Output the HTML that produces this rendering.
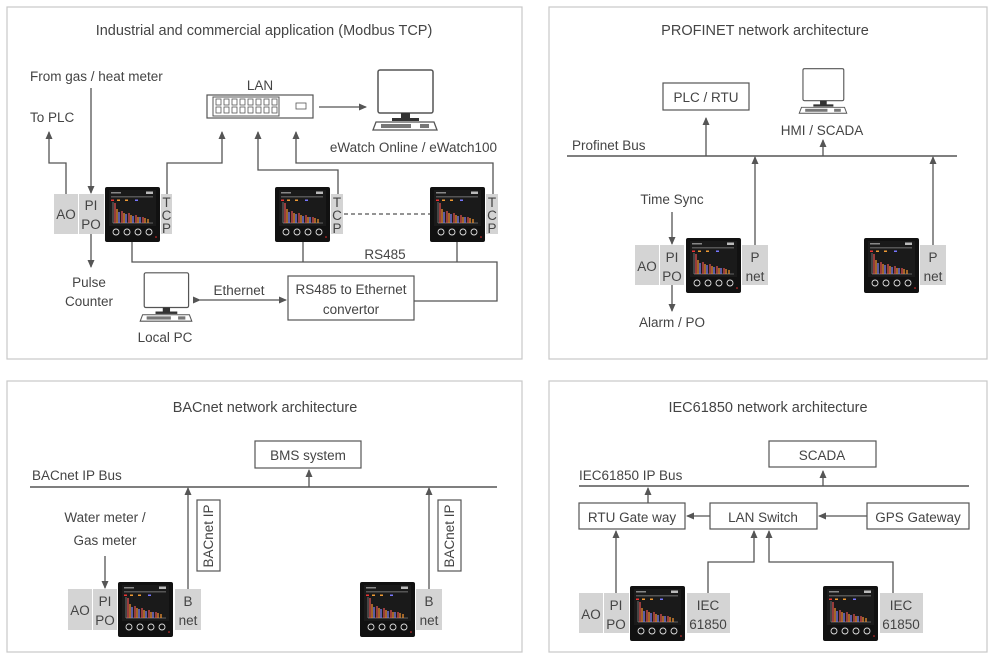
<!DOCTYPE html>
<html><head><meta charset="utf-8"><style>
html,body{margin:0;padding:0;background:#fff;}
svg{display:block;font-family:"Liberation Sans","DejaVu Sans",sans-serif;}
text{fill:#444;font-size:13.5px;}
.t{font-size:14.5px;}
.ln{stroke:#555;stroke-width:1.3;fill:none;}
.bx{fill:#fff;stroke:#555;stroke-width:1.2;}
.g{fill:#d4d4d4;}
.tc{font-size:13.5px;}
</style></head><body>
<svg width="993" height="659" viewBox="0 0 993 659" xmlns="http://www.w3.org/2000/svg">
<defs>
<marker id="a" markerWidth="8" markerHeight="8" refX="7" refY="4" orient="auto" markerUnits="userSpaceOnUse">
<path d="M0,0.5 L8,4 L0,7.5 Z" fill="#555"/></marker>
<symbol id="m" viewBox="0 0 55 55">
<rect x="0" y="0" width="55" height="55" rx="2" fill="#111"/>
<rect x="4" y="3" width="47" height="36" fill="#1a1a1a"/>
<rect x="6" y="5" width="10" height="1.5" fill="#888"/>
<rect x="41" y="4.5" width="7" height="2.5" fill="#bbb"/>
<rect x="6" y="9" width="42" height="1.5" fill="#555"/>
<rect x="6" y="12.5" width="3" height="1.5" fill="#e33"/>
<rect x="12" y="12.5" width="3" height="1.5" fill="#e93"/>
<rect x="20" y="12.5" width="3" height="1.5" fill="#e93"/>
<rect x="30" y="12.5" width="3" height="1.5" fill="#77f"/>
<line x1="8" y1="15" x2="8" y2="36" stroke="#aaa" stroke-width="0.6"/>
<line x1="8" y1="36" x2="48" y2="36" stroke="#aaa" stroke-width="0.6"/>
<g stroke-width="1.2">
<line x1="10" y1="36" x2="10" y2="16" stroke="#e55"/>
<line x1="12" y1="36" x2="12" y2="22" stroke="#f93"/>
<line x1="14" y1="36" x2="14" y2="25" stroke="#88f"/>
<line x1="17" y1="36" x2="17" y2="24" stroke="#e55"/>
<line x1="19" y1="36" x2="19" y2="26" stroke="#f93"/>
<line x1="21" y1="36" x2="21" y2="27" stroke="#88f"/>
<line x1="24" y1="36" x2="24" y2="26" stroke="#e55"/>
<line x1="26" y1="36" x2="26" y2="28" stroke="#f93"/>
<line x1="28" y1="36" x2="28" y2="29" stroke="#88f"/>
<line x1="31" y1="36" x2="31" y2="28" stroke="#e55"/>
<line x1="33" y1="36" x2="33" y2="30" stroke="#f93"/>
<line x1="35" y1="36" x2="35" y2="30" stroke="#88f"/>
<line x1="38" y1="36" x2="38" y2="30" stroke="#e55"/>
<line x1="40" y1="36" x2="40" y2="31" stroke="#f93"/>
<line x1="43" y1="36" x2="43" y2="32" stroke="#f93"/>
</g>
<g fill="none" stroke="#ddd" stroke-width="0.9">
<circle cx="11" cy="45" r="3"/><circle cx="22" cy="45" r="3"/><circle cx="33" cy="45" r="3"/><circle cx="44" cy="45" r="3"/>
</g>
<circle cx="51" cy="50" r="0.8" fill="#e33"/>
</symbol>
<symbol id="pc" viewBox="0 0 66 62">
<rect x="6" y="1" width="55" height="43" rx="2" fill="#fff" stroke="#555" stroke-width="1.5"/>
<rect x="29" y="44" width="9" height="7" fill="#333"/>
<rect x="20" y="49" width="27" height="3" fill="#333"/>
<path d="M4,53 L62,53 L65,61 L1,61 Z" fill="#fff" stroke="#555" stroke-width="1.3"/>
<rect x="9" y="55" width="30" height="4" fill="#777"/>
<rect x="48" y="55" width="9" height="4" fill="#777"/>
</symbol>
</defs>

<g fill="none" stroke="#c8c8c8" stroke-width="1.2">
<rect x="7" y="7" width="515" height="352"/>
<rect x="549" y="7" width="438" height="352"/>
<rect x="7" y="381" width="515" height="271"/>
<rect x="549" y="381" width="438" height="271"/>
</g>

<!-- PANEL 1 -->
<text class="t" x="264" y="35" text-anchor="middle">Industrial and commercial application (Modbus TCP)</text>
<text x="30" y="81">From gas / heat meter</text>
<text x="30" y="122">To PLC</text>
<text x="260" y="90" text-anchor="middle">LAN</text>
<rect x="207" y="95" width="106" height="23" fill="#fff" stroke="#555" stroke-width="1.2"/>
<rect x="213" y="97" width="66" height="19" fill="#fff" stroke="#555" stroke-width="1"/>
<g fill="none" stroke="#555" stroke-width="0.8">
<rect x="216" y="99" width="5" height="6"/><rect x="224" y="99" width="5" height="6"/><rect x="232" y="99" width="5" height="6"/><rect x="240" y="99" width="5" height="6"/><rect x="248" y="99" width="5" height="6"/><rect x="256" y="99" width="5" height="6"/><rect x="264" y="99" width="5" height="6"/><rect x="272" y="99" width="5" height="6"/>
<rect x="216" y="107" width="5" height="6"/><rect x="224" y="107" width="5" height="6"/><rect x="232" y="107" width="5" height="6"/><rect x="240" y="107" width="5" height="6"/><rect x="248" y="107" width="5" height="6"/><rect x="256" y="107" width="5" height="6"/><rect x="264" y="107" width="5" height="6"/><rect x="272" y="107" width="5" height="6"/>
<rect x="296" y="103" width="10" height="6"/>
</g>
<line class="ln" x1="319" y1="107" x2="366" y2="107" marker-end="url(#a)"/>
<use href="#pc" x="372" y="69" width="66" height="62"/>
<text x="497" y="152" text-anchor="end">eWatch Online / eWatch100</text>

<rect class="g" x="54" y="194" width="24" height="40"/>
<rect class="g" x="79" y="194" width="25" height="40"/>
<text x="66" y="219" text-anchor="middle">AO</text>
<text x="91" y="210" text-anchor="middle">PI</text>
<text x="91" y="229" text-anchor="middle">PO</text>
<use href="#m" x="105" y="187" width="55" height="55"/>
<rect class="g" x="161" y="194" width="11" height="40"/>
<text class="tc" x="166.5" y="207" text-anchor="middle">T</text>
<text class="tc" x="166.5" y="220" text-anchor="middle">C</text>
<text class="tc" x="166.5" y="233" text-anchor="middle">P</text>
<use href="#m" x="275" y="187" width="55" height="55"/>
<rect class="g" x="331" y="194" width="12" height="40"/>
<text class="tc" x="337" y="207" text-anchor="middle">T</text>
<text class="tc" x="337" y="220" text-anchor="middle">C</text>
<text class="tc" x="337" y="233" text-anchor="middle">P</text>
<use href="#m" x="430" y="187" width="55" height="55"/>
<rect class="g" x="486" y="194" width="12" height="40"/>
<text class="tc" x="492" y="207" text-anchor="middle">T</text>
<text class="tc" x="492" y="220" text-anchor="middle">C</text>
<text class="tc" x="492" y="233" text-anchor="middle">P</text>
<line x1="344" y1="214" x2="430" y2="214" stroke="#555" stroke-width="1.2" stroke-dasharray="4,3"/>

<polyline class="ln" points="66,194 66,163 49,163 49,132" marker-end="url(#a)"/>
<line class="ln" x1="91" y1="88" x2="91" y2="193" marker-end="url(#a)"/>
<line class="ln" x1="91" y1="234" x2="91" y2="267" marker-end="url(#a)"/>
<text x="89" y="287" text-anchor="middle">Pulse</text>
<text x="89" y="306" text-anchor="middle">Counter</text>
<polyline class="ln" points="167,194 167,163 222,163 222,132" marker-end="url(#a)"/>
<polyline class="ln" points="338,194 338,170 258,170 258,132" marker-end="url(#a)"/>
<polyline class="ln" points="493,194 493,163 296,163 296,132" marker-end="url(#a)"/>
<polyline class="ln" points="132,242 132,262 497,262 497,301 414,301"/>
<line class="ln" x1="303" y1="242" x2="303" y2="262"/>
<line class="ln" x1="457" y1="242" x2="457" y2="262"/>
<text x="385" y="259" text-anchor="middle" font-size="12.5">RS485</text>
<rect class="bx" x="288" y="276" width="126" height="44"/>
<text x="351" y="294" text-anchor="middle" font-size="12.5">RS485 to Ethernet</text>
<text x="351" y="314" text-anchor="middle" font-size="12.5">convertor</text>
<line class="ln" x1="200" y1="300" x2="286" y2="300" marker-end="url(#a)" marker-start="url(#a)"/>
<text x="239" y="295" text-anchor="middle" font-size="12.5">Ethernet</text>
<use href="#pc" x="139" y="272" width="54" height="50"/>
<text x="165" y="342" text-anchor="middle">Local PC</text>

<!-- PANEL 2 -->
<text class="t" x="765" y="35" text-anchor="middle">PROFINET network architecture</text>
<rect class="bx" x="663" y="83" width="86" height="27"/>
<text x="706" y="102" text-anchor="middle">PLC / RTU</text>
<use href="#pc" x="797" y="68" width="52" height="46"/>
<text x="822" y="135" text-anchor="middle">HMI / SCADA</text>
<text x="572" y="150">Profinet Bus</text>
<line x1="567" y1="156" x2="957" y2="156" stroke="#555" stroke-width="1.5"/>
<line class="ln" x1="706" y1="156" x2="706" y2="118" marker-end="url(#a)"/>
<line class="ln" x1="823" y1="156" x2="823" y2="140" marker-end="url(#a)"/>
<text x="672" y="204" text-anchor="middle">Time Sync</text>
<line class="ln" x1="672" y1="212" x2="672" y2="244" marker-end="url(#a)"/>
<rect class="g" x="635" y="245" width="24" height="40"/>
<rect class="g" x="660" y="245" width="24" height="40"/>
<text x="647" y="271" text-anchor="middle">AO</text>
<text x="672" y="262" text-anchor="middle">PI</text>
<text x="672" y="281" text-anchor="middle">PO</text>
<use href="#m" x="686" y="238" width="55" height="55"/>
<rect class="g" x="742" y="245" width="26" height="40"/>
<text x="755" y="262" text-anchor="middle">P</text>
<text x="755" y="281" text-anchor="middle">net</text>
<line class="ln" x1="672" y1="285" x2="672" y2="311" marker-end="url(#a)"/>
<text x="672" y="327" text-anchor="middle">Alarm / PO</text>
<line class="ln" x1="755" y1="245" x2="755" y2="157" marker-end="url(#a)"/>
<use href="#m" x="864" y="238" width="55" height="55"/>
<rect class="g" x="920" y="245" width="26" height="40"/>
<text x="933" y="262" text-anchor="middle">P</text>
<text x="933" y="281" text-anchor="middle">net</text>
<line class="ln" x1="933" y1="245" x2="933" y2="157" marker-end="url(#a)"/>

<!-- PANEL 3 -->
<text class="t" x="265" y="412" text-anchor="middle">BACnet network architecture</text>
<rect class="bx" x="255" y="441" width="106" height="27"/>
<text x="308" y="460" text-anchor="middle">BMS system</text>
<text x="32" y="480">BACnet IP Bus</text>
<line x1="30" y1="487" x2="497" y2="487" stroke="#555" stroke-width="1.5"/>
<line class="ln" x1="309" y1="487" x2="309" y2="470" marker-end="url(#a)"/>
<text x="105" y="522" text-anchor="middle">Water meter /</text>
<text x="105" y="545" text-anchor="middle">Gas meter</text>
<line class="ln" x1="105" y1="556" x2="105" y2="588" marker-end="url(#a)"/>
<rect class="g" x="68" y="589" width="24" height="41"/>
<rect class="g" x="93" y="589" width="24" height="41"/>
<text x="80" y="615" text-anchor="middle">AO</text>
<text x="105" y="606" text-anchor="middle">PI</text>
<text x="105" y="625" text-anchor="middle">PO</text>
<use href="#m" x="118" y="582" width="55" height="55"/>
<rect class="g" x="175" y="589" width="26" height="41"/>
<text x="188" y="606" text-anchor="middle">B</text>
<text x="188" y="625" text-anchor="middle">net</text>
<line class="ln" x1="188" y1="589" x2="188" y2="488" marker-end="url(#a)"/>
<rect class="bx" x="197" y="500" width="23" height="71"/>
<text transform="translate(213,536) rotate(-90)" text-anchor="middle">BACnet IP</text>
<use href="#m" x="360" y="582" width="55" height="55"/>
<rect class="g" x="416" y="589" width="26" height="41"/>
<text x="429" y="606" text-anchor="middle">B</text>
<text x="429" y="625" text-anchor="middle">net</text>
<line class="ln" x1="429" y1="589" x2="429" y2="488" marker-end="url(#a)"/>
<rect class="bx" x="438" y="500" width="23" height="71"/>
<text transform="translate(454,536) rotate(-90)" text-anchor="middle">BACnet IP</text>

<!-- PANEL 4 -->
<text class="t" x="768" y="412" text-anchor="middle">IEC61850 network architecture</text>
<rect class="bx" x="769" y="441" width="107" height="26"/>
<text x="822" y="460" text-anchor="middle">SCADA</text>
<text x="579" y="480">IEC61850 IP Bus</text>
<line x1="579" y1="486" x2="969" y2="486" stroke="#555" stroke-width="1.5"/>
<line class="ln" x1="823" y1="486" x2="823" y2="471" marker-end="url(#a)"/>
<line class="ln" x1="648" y1="503" x2="648" y2="488" marker-end="url(#a)"/>
<rect class="bx" x="579" y="503" width="106" height="26"/>
<text x="632" y="522" text-anchor="middle">RTU Gate way</text>
<rect class="bx" x="710" y="503" width="107" height="26"/>
<text x="763" y="522" text-anchor="middle">LAN Switch</text>
<rect class="bx" x="867" y="503" width="102" height="26"/>
<text x="918" y="522" text-anchor="middle">GPS Gateway</text>
<line class="ln" x1="710" y1="516" x2="687" y2="516" marker-end="url(#a)"/>
<line class="ln" x1="867" y1="516" x2="819" y2="516" marker-end="url(#a)"/>
<rect class="g" x="579" y="593" width="24" height="40"/>
<rect class="g" x="604" y="593" width="25" height="40"/>
<text x="591" y="619" text-anchor="middle">AO</text>
<text x="616" y="610" text-anchor="middle">PI</text>
<text x="616" y="629" text-anchor="middle">PO</text>
<use href="#m" x="630" y="586" width="55" height="55"/>
<rect class="g" x="687" y="593" width="43" height="40"/>
<text x="708" y="610" text-anchor="middle">IEC</text>
<text x="708" y="629" text-anchor="middle">61850</text>
<line class="ln" x1="616" y1="593" x2="616" y2="531" marker-end="url(#a)"/>
<polyline class="ln" points="708,593 708,562 754,562 754,531" marker-end="url(#a)"/>
<use href="#m" x="823" y="586" width="55" height="55"/>
<rect class="g" x="880" y="593" width="43" height="40"/>
<text x="901" y="610" text-anchor="middle">IEC</text>
<text x="901" y="629" text-anchor="middle">61850</text>
<polyline class="ln" points="893,593 893,562 769,562 769,531" marker-end="url(#a)"/>
</svg>
</body></html>
